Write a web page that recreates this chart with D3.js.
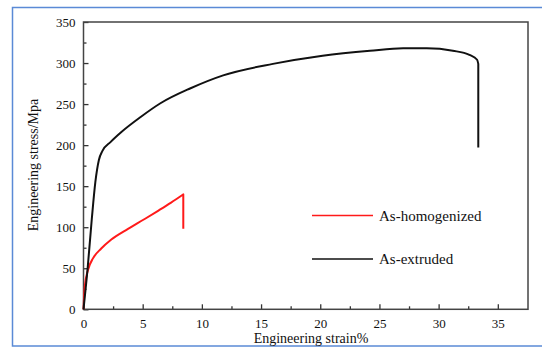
<!DOCTYPE html>
<html>
<head>
<meta charset="utf-8">
<script src="https://cdn.jsdelivr.net/npm/d3@7"></script>
<style>
body { margin: 0; background: #fff; }
text { font-family: "Liberation Serif", "Times New Roman", serif; fill: #111; }
</style>
</head>
<body>
<script>
// values (last point = drop at fracture)
var extrudedStrain = [0, 0.35, 0.7, 1.0, 1.3, 1.6, 2.3, 3.2, 4.8, 6.5, 9.0, 11.8, 16.0, 20.2, 24.2, 27.0, 29.0, 31.2, 32.6, 33.25, 33.35, 33.35];
var extrudedStress = [0, 50, 110, 155, 182, 193, 204, 216, 234, 251, 269, 285, 299, 309, 315, 318, 318, 315, 310, 304, 299, 197];

var homStrain = [0, 0.1, 0.38, 0.8, 1.5, 2.35, 3.76, 5.17, 6.3, 7.4, 8.43, 8.43];
var homStress = [0, 27, 48, 62, 74, 85, 98, 110, 120, 130, 140, 98];

var xTicks = [0, 5, 10, 15, 20, 25, 30, 35];
var yTicks = [0, 50, 100, 150, 200, 250, 300, 350];
var seriesNames = ["As-homogenized", "As-extruded"];
var seriesColors = ["#ff1a1a", "#111"];

var W = 542, H = 349;
var margin = {top: 22, right: 14, bottom: 40, left: 83.5},
    width = 528 - margin.left,
    height = 309.3 - margin.top;

var svg = d3.select("body").append("svg")
    .attr("width", W)
    .attr("height", H);

// blue frame around the figure
svg.append("rect")
    .attr("x", 12.5).attr("y", 7.5)
    .attr("width", 560).attr("height", 338.5)
    .attr("fill", "none")
    .attr("stroke", "#5a8ad6")
    .attr("stroke-width", 1.5);

var g = svg.append("g")
    .attr("transform", "translate(" + margin.left + "," + margin.top + ")");

var x = d3.scaleLinear().domain([0, 37.55]).range([0, width]);
var y = d3.scaleLinear().domain([0, 350]).range([height, 0]);

// minor ticks first (no labels)
g.append("g")
    .attr("transform", "translate(0," + height + ")")
    .call(d3.axisBottom(x).tickValues(d3.range(2.5, 37, 5)).tickSize(-3).tickFormat(""))
    .call(function(a) { a.select(".domain").remove(); });
g.append("g")
    .call(d3.axisLeft(y).tickValues(d3.range(25, 350, 50)).tickSize(-3).tickFormat(""))
    .call(function(a) { a.select(".domain").remove(); });

var xAxis = g.append("g")
    .attr("transform", "translate(0," + height + ")")
    .call(d3.axisBottom(x).tickValues(xTicks).tickSize(-5).tickPadding(9));
var yAxis = g.append("g")
    .call(d3.axisLeft(y).tickValues(yTicks).tickSize(-5).tickPadding(8));

[xAxis, yAxis].forEach(function(a) {
  a.select(".domain").remove();
  a.selectAll("text").style("font-size", "13px").style("font-family", "Liberation Serif").attr("fill", "#222");
});
g.selectAll(".tick line").attr("stroke", "#333").attr("stroke-width", 1.3);

// plot box
g.append("rect")
    .attr("width", width).attr("height", height)
    .attr("fill", "none")
    .attr("stroke", "#444")
    .attr("stroke-width", 1.5);

var smooth = d3.line()
    .x(function(d) { return x(d[0]); })
    .y(function(d) { return y(d[1]); })
    .curve(d3.curveMonotoneX);
var straight = d3.line()
    .x(function(d) { return x(d[0]); })
    .y(function(d) { return y(d[1]); });

var series = [
  d3.zip(homStrain, homStress),
  d3.zip(extrudedStrain, extrudedStress)
];

series.forEach(function(s, i) {
  var body = s.slice(0, s.length - 1);
  var drop = s.slice(s.length - 2);
  g.append("path")
      .attr("fill", "none")
      .attr("stroke", seriesColors[i])
      .attr("stroke-width", 2)
      .attr("stroke-linejoin", "round")
      .attr("d", smooth(body) + straight(drop).replace("M", "L"));
});

// legend
var legY = [215.5, 259];
seriesNames.forEach(function(name, i) {
  svg.append("line")
      .attr("x1", 312).attr("x2", 373)
      .attr("y1", legY[i]).attr("y2", legY[i])
      .attr("stroke", seriesColors[i])
      .attr("stroke-width", 1.5);
  svg.append("text")
      .attr("x", 379).attr("y", legY[i] + 5)
      .style("font-size", "15px")
      .text(name);
});

// axis titles
svg.append("text")
    .attr("x", 311).attr("y", 343)
    .attr("text-anchor", "middle")
    .style("font-size", "14px")
    .text("Engineering strain%");

svg.append("text")
    .attr("transform", "translate(38,165) rotate(-90)")
    .attr("text-anchor", "middle")
    .style("font-size", "14px")
    .text("Engineering stress/Mpa");
</script>
</body>
</html>
